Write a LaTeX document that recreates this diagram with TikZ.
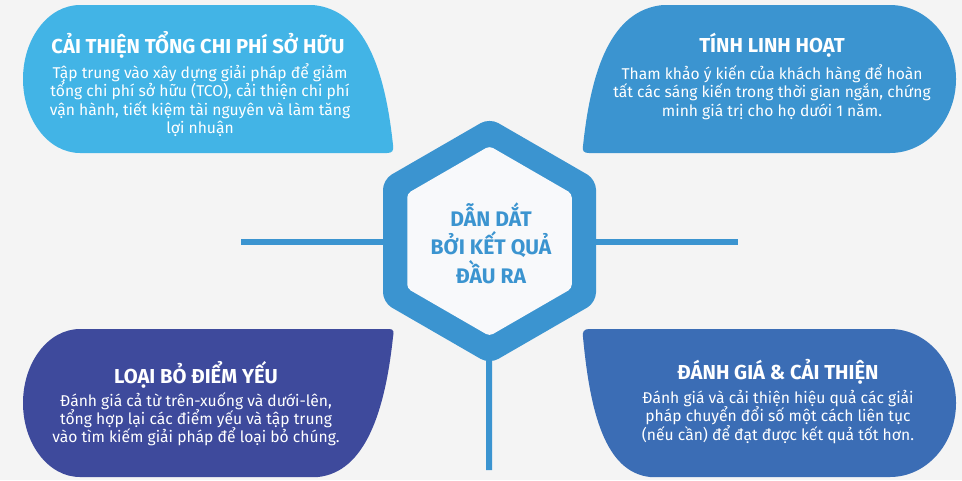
\documentclass[tikz,border=0pt]{standalone}
\usepackage{fontspec}
\setmainfont{Fira Sans}
\usetikzlibrary{shapes.geometric}

\definecolor{bgGray}{HTML}{F4F4F4}
\definecolor{skyBlue}{HTML}{42B4E6}
\definecolor{midBlue}{HTML}{3B94D0}
\definecolor{deepBlue}{HTML}{3B6DB5}
\definecolor{inkBlue}{HTML}{3E4A9C}
\definecolor{hubWhite}{HTML}{F8F9FB}

\tikzset{
  titletext/.style={text=white, font=\fontsize{11.5}{13}\selectfont\bfseries, align=center, inner sep=0pt},
  bodytext/.style={text=white, font=\fontsize{8.9}{10.4}\selectfont, align=center, inner sep=0pt},
  spoke/.style={draw=midBlue, line width=0.12cm},
  hexouter/.style={regular polygon, regular polygon sides=6, shape border rotate=30, fill=midBlue, minimum size=4.92cm, inner sep=0pt, rounded corners=0.2cm},
  hexinner/.style={regular polygon, regular polygon sides=6, shape border rotate=30, fill=hubWhite, minimum size=3.8cm, inner sep=0pt, rounded corners=0.08cm},
  hubtext/.style={text=midBlue, font=\fontsize{12}{16.2}\selectfont\bfseries, align=center, inner sep=0pt}
}

\begin{document}
\begin{tikzpicture}[x=0.02cm, y=-0.02cm]

\fill[bgGray] (0,0) rectangle (962,480);

%Spokes
\coordinate (hubc) at (489.5,241);
\coordinate (west) at (241,242);
\coordinate (east) at (738,242);
\coordinate (south) at (489,470);
\begin{scope}[spoke]
	\path (west) edge (east);
	\path (hubc) edge (south);
\end{scope}

%Top left
\fill[skyBlue] (80,5) -- (313,5) .. controls (365,10) and (385,70) .. (393,145)
	.. controls (394,151) and (392,153) .. (387,153) -- (80,153)
	.. controls (48.5,153) and (23,119.9) .. (23,79)
	.. controls (23,38.1) and (48.5,5) .. (80,5) -- cycle;

%Top right
\fill[midBlue] (663,5) -- (890,5) .. controls (926.5,5) and (956,38.1) .. (956,79)
	.. controls (956,119.9) and (926.5,153) .. (890,153) -- (589,153)
	.. controls (584,153) and (582,151) .. (583,146)
	.. controls (591,70) and (611,10) .. (663,5) -- cycle;

%Bottom left
\fill[inkBlue] (80,329) -- (389,329) .. controls (394,329) and (394,332) .. (393,337)
	.. controls (385,412) and (365,472) .. (318,477) -- (80,477)
	.. controls (48.5,477) and (23,443.9) .. (23,403)
	.. controls (23,362.1) and (48.5,329) .. (80,329) -- cycle;

%Bottom right
\fill[deepBlue] (589,329) -- (890,329) .. controls (926.5,329) and (956,362.1) .. (956,403)
	.. controls (956,443.9) and (926.5,477) .. (890,477) -- (650,477)
	.. controls (605,472) and (590,412) .. (583,337)
	.. controls (582,332) and (584,329) .. (589,329) -- cycle;

%Hexagon
\node[hexouter] (hexo) at (hubc) {};
\node[hexinner] (hexi) at (hubc) {};
\node[hubtext] (hub) at (491,243) {DẪN DẮT\\BỞI KẾT QUẢ\\ĐẦU RA};

%Texts
\node[titletext] (tcotitle) at (198,45) {CẢI THIỆN TỔNG CHI PHÍ SỞ HỮU};
\node[bodytext] (tcobody) at (200,100) {Tập trung vào xây dựng giải pháp để giảm\\tổng chi phí sở hữu (TCO), cải thiện chi phí\\vận hành, tiết kiệm tài nguyên và làm tăng\\lợi nhuận};

\node[titletext] (flextitle) at (772,45) {TÍNH LINH HOẠT};
\node[bodytext] (flexbody) at (772,92) {Tham khảo ý kiến của khách hàng để hoàn\\tất các sáng kiến trong thời gian ngắn, chứng\\minh giá trị cho họ dưới 1 năm.};

\node[titletext] (weaktitle) at (196,375) {LOẠI BỎ ĐIỂM YẾU};
\node[bodytext] (weakbody) at (196,419) {Đánh giá cả từ trên-xuống và dưới-lên,\\tổng hợp lại các điểm yếu và tập trung\\vào tìm kiếm giải pháp để loại bỏ chúng.};

\node[titletext] (evaltitle) at (778,372) {ĐÁNH GIÁ \& CẢI THIỆN};
\node[bodytext] (evalbody) at (778,417) {Đánh giá và cải thiện hiệu quả các giải\\pháp chuyển đổi số một cách liên tục\\(nếu cần) để đạt được kết quả tốt hơn.};

\end{tikzpicture}
\end{document}
